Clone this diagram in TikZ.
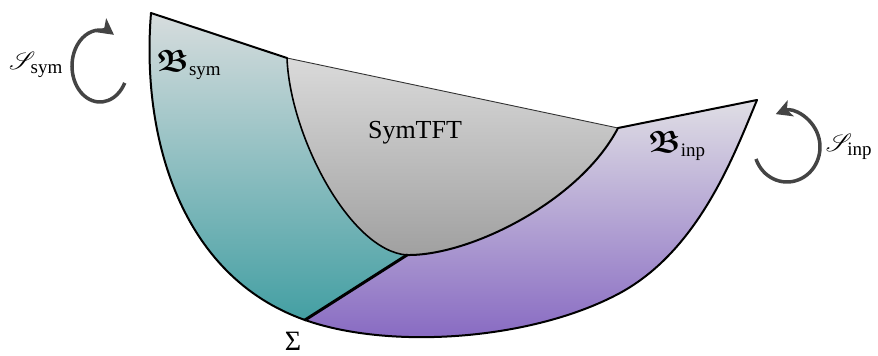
\documentclass[tikz,border=0pt]{standalone}
\usepackage{amsmath,amssymb}
\usepackage{mathrsfs}
\usepackage{fontspec}
\setmainfont{Liberation Serif}
\usetikzlibrary{arrows.meta}
\definecolor{tealtop}{HTML}{D8DDDE}
\definecolor{tealbot}{HTML}{379A9E}
\definecolor{purtop}{HTML}{E0DFE5}
\definecolor{purbot}{HTML}{8769C2}
\definecolor{graytop}{HTML}{DADADA}
\definecolor{graybot}{HTML}{A0A0A0}
\definecolor{arrgray}{HTML}{444444}
\newcommand{\subtxt}[1]{\text{\fontsize{19}{21}\selectfont #1}}
\begin{document}
\begin{tikzpicture}[x=1pt,y=1pt,
  edge/.style={line width=2pt, line join=round, line cap=round},
  lbl/.style={font=\fontsize{26}{30}\selectfont, inner sep=0pt},
  mlbl/.style={font=\fontsize{31}{34}\selectfont, inner sep=0pt},
  cyc/.style={line width=3.5pt, arrgray, -{Stealth[length=16pt,width=17pt,inset=4pt]}}]
\useasboundingbox (0,0) rectangle (878,356);
\coordinate (A) at (151,343);
\coordinate (B) at (287,298);
\coordinate (C) at (618,228);
\coordinate (D) at (757,256);
\coordinate (E) at (305,36);
\coordinate (F) at (620,63);
\coordinate (J) at (407,101);
\coordinate (Ex) at (264,10);
% fills
\begin{scope}
\clip (A) .. controls (141,220) and (180,80) .. (E)
  .. controls (390,6) and (532,15.5) .. (F)
  .. controls (699,106) and (734,201) .. (D) -- (C) -- (B) -- cycle;
\shade[top color=purtop, bottom color=purbot] (290,15) rectangle (760,258);
\shade[top color=tealtop, bottom color=tealbot] (140,345) -- (A) -- (B) .. controls (290,220) and (350,105) .. (J) -- (E) -- (Ex) -- (140,10) -- cycle;
\shade[top color=graytop, bottom color=graybot] (B) -- (C) .. controls (580,155) and (470,100) .. (J) .. controls (350,105) and (290,220) .. (B) -- cycle;
\end{scope}
% outlines
\draw[edge] (A) .. controls (141,220) and (180,80) .. (E)
  .. controls (390,6) and (532,15.5) .. (F)
  .. controls (699,106) and (734,201) .. (D);
\draw[edge] (A) -- (B);
\draw[edge] (C) -- (D);
\draw[line width=0.9pt, black!80] (B) -- (C);
\draw[edge, line width=1.6pt] (B) .. controls (290,220) and (350,105) .. (J);
\draw[edge] (J) .. controls (470,100) and (580,155) .. (C);
\draw[line width=3pt, line cap=round] (E) -- (J);
% labels
\node[mlbl] (ssym) at (36,291) {$\mathscr{S}_{\subtxt{sym}}$};
\node[mlbl] (bsym) at (189,291) {$\boldsymbol{\mathfrak{B}}_{\subtxt{sym}}$};
\node[lbl] (tft) at (415,223) {SymTFT};
\node[mlbl] (binp) at (677,210) {$\boldsymbol{\mathfrak{B}}_{\subtxt{inp}}$};
\node[mlbl] (sinp) at (849,209) {$\mathscr{S}_{\subtxt{inp}}$};
\node[lbl, font=\fontsize{28}{30}\selectfont, anchor=north] (sig) at (293,24) {Σ};
% cyclic arrows
\coordinate (cl) at (100,290);
\coordinate (cr) at (787,209);
\draw[cyc] (cl) ++(-28:28pt and 36pt) arc[start angle=-28, end angle=-300, x radius=28pt, y radius=36pt];
\draw[cyc] (cr) ++(200:33pt and 35pt) arc[start angle=200, end angle=470, x radius=33pt, y radius=35pt];
\end{tikzpicture}
\end{document}
